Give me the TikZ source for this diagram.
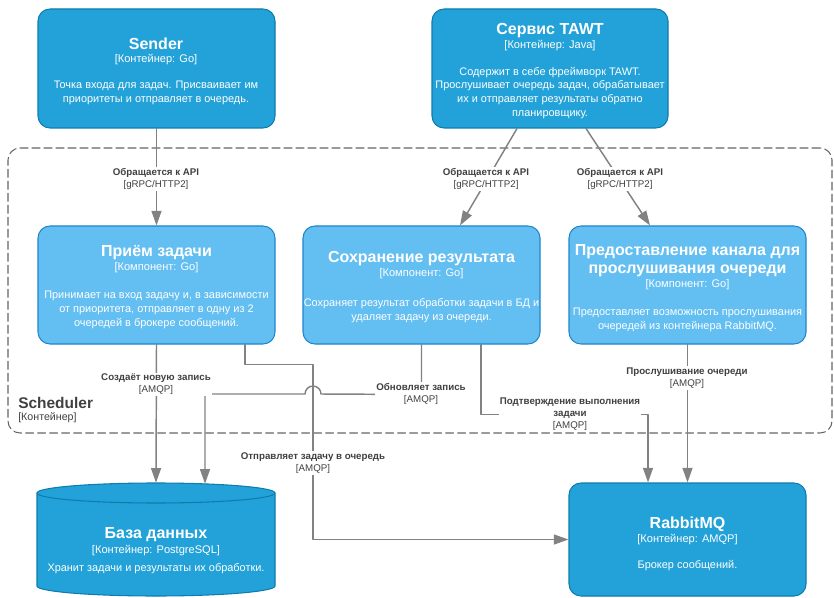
\documentclass[tikz,border=0pt]{standalone}
\usepackage{fontspec}
\setmainfont{Liberation Sans}
\usepackage{tikz}
\usetikzlibrary{positioning, fit, calc, arrows.meta}

% C4 palette
\definecolor{c4cont}{HTML}{23A2D9}
\definecolor{c4contline}{HTML}{0E7DAD}
\definecolor{c4comp}{HTML}{63BEF2}
\definecolor{c4compline}{HTML}{2086C9}
\definecolor{c4rel}{HTML}{828282}
\definecolor{c4label}{HTML}{404040}
\definecolor{c4bnd}{HTML}{666666}

\newcommand{\boxtitle}[1]{{\fontsize{12}{14}\selectfont\bfseries #1}}
\newcommand{\boxtype}[1]{{\fontsize{8.3}{10}\selectfont #1}}
\newcommand{\reltext}[2]{\textbf{#1}\\{[#2]}}

\tikzset{
  container/.style={draw=c4contline, fill=c4cont, line width=0.8pt, rounded corners=9pt, inner sep=0pt},
  component/.style={container, draw=c4compline, fill=c4comp},
  boxtext/.style={text=white, align=center, font=\fontsize{8.2}{10.3}\selectfont},
  boundary/.style={draw=c4bnd, line width=0.8pt, dash pattern=on 6pt off 3pt, rounded corners=9pt, inner sep=0pt},
  rel/.style={draw=c4rel, line width=1.1pt, -{Triangle[length=11pt,width=7.5pt]}},
  rellabel/.style={fill=white, inner sep=1pt, align=center, text=c4label, font=\fontsize{7.3}{9}\selectfont},
}

\begin{document}
\begin{tikzpicture}[x=0.75pt, y=-0.75pt, line cap=round, line join=round]
        \useasboundingbox (0,0) rectangle (834,598);
        % scheduler boundary
        \node[boundary, fit={(8,148) (832,433)}] (scheduler) {};
        \node[anchor=north west, align=left, text=c4label, inner sep=0pt] (scheduler-name) at (18,397)
            {{\fontsize{11.6}{13}\selectfont\bfseries Scheduler}\\[-3pt]{\fontsize{8}{9}\selectfont [Контейнер]}};
        % external containers
        \node[container, fit={(38,9) (275,128)}] (sender) {};
        \node[boxtext] (sender-text) at (156,71)
            {\boxtitle{Sender}\\\boxtype{[Контейнер: Go]}\\[9pt]
             Точка входа для задач. Присваивает им\\приоритеты и отправляет в очередь.};
        \node[container, fit={(432,9) (668,128)}] (tawt) {};
        \node[boxtext] (tawt-text) at (550,71)
            {\boxtitle{Сервис TAWT}\\\boxtype{[Контейнер: Java]}\\[10pt]
             Содержит в себе фреймворк TAWT.\\Прослушивает очередь задач, обрабатывает\\
             их и отправляет результаты обратно\\планировщику.};
        % components
        \node[component, fit={(38,226) (275,344)}] (priem) {};
        \node[boxtext] (priem-text) at (156.5,287)
            {\boxtitle{Приём задачи}\\\boxtype{[Компонент: Go]}\\[11pt]
             Принимает на вход задачу и, в зависимости\\от приоритета, отправляет в одну из 2\\
             очередей в брокере сообщений.};
        \node[component, fit={(303,226) (540,344)}] (save) {};
        \node[boxtext] (save-text) at (421.5,287)
            {\boxtitle{Сохранение результата}\\\boxtype{[Компонент: Go]}\\[12pt]
             Сохраняет результат обработки задачи в БД и\\удаляет задачу из очереди.};
        \node[component, fit={(569,226) (806,344)}] (listen) {};
        \node[boxtext] (listen-text) at (687.5,288)
            {\boxtitle{Предоставление канала для}\\[3pt]\boxtitle{прослушивания очереди}\\
             \boxtype{[Компонент: Go]}\\[11pt]
             Предоставляет возможность прослушивания\\очередей из контейнера RabbitMQ.};
        % database
        \path[container, rounded corners=0pt] (37,493) -- (37,586)
            arc[start angle=180, end angle=360, x radius=89.25pt, y radius=7.5pt] -- (275,493)
            arc[start angle=0, end angle=180, x radius=89.25pt, y radius=7.5pt] -- cycle;
        \draw[c4contline, line width=0.8pt] (37,493)
            arc[start angle=180, end angle=360, x radius=89.25pt, y radius=7.5pt];
        \node[fit={(37,483) (275,596)}, inner sep=0pt] (db) {};
        \node[boxtext] (db-text) at (156,551)
            {\boxtitle{База данных}\\[0.7pt]\boxtype{[Контейнер: PostgreSQL]}\\[3.5pt]
             Хранит задачи и результаты их обработки.};
        % message broker
        \node[container, fit={(569,483) (806,596)}] (rabbit) {};
        \node[boxtext] (rabbit-text) at (687.5,544)
            {\boxtitle{RabbitMQ}\\\boxtype{[Контейнер: AMQP]}\\[9.5pt]Брокер сообщений.};

        % API calls
        \draw[rel] (sender) -- (priem);
        \draw[rel] ($(tawt.south)+(-33,0)$) -- ($(save.north)+(38.5,0)$);
        \draw[rel] ($(tawt.south)+(36,0)$) -- ($(listen.north)+(-37.5,0)$);
        % AMQP links
        \draw[rel] (priem.south) -- (db.north);
        \draw[rel] ($(priem.south)+(88.5,0)$) -- ++(0,20) -- ++(68,0) |- (rabbit.west);
        \draw[rel] (save.south) -- ++(0,50) -- (321,394)
            arc[start angle=0, end angle=180, radius=6pt] -- (205,394) -- ($(db.north)+(49,1)$);
        \draw[rel] ($(save.south)+(59.5,0)$) -- ++(0,70) -| ($(rabbit.north)+(-39.5,0)$);
        \draw[rel] (listen.south) -- (rabbit.north);

        % connector labels
        \node[rellabel] (lbl-sender) at (156,179) {\reltext{Обращается к API}{gRPC/HTTP2}};
        \node[rellabel] (lbl-save) at (486,179) {\reltext{Обращается к API}{gRPC/HTTP2}};
        \node[rellabel] (lbl-listen) at (620,179) {\reltext{Обращается к API}{gRPC/HTTP2}};
        \node[rellabel] (lbl-create) at (156,384.5) {\reltext{Создаёт новую запись}{AMQP}};
        \node[rellabel] (lbl-update) at (421,394) {\reltext{Обновляет запись}{AMQP}};
        \node[rellabel] (lbl-queue) at (313,463) {\reltext{Отправляет задачу в очередь}{AMQP}};
        \node[rellabel] (lbl-ack) at (570,414) {\textbf{Подтверждение выполнения}\\\textbf{задачи}\\{[AMQP]}};
        \node[rellabel] (lbl-poll) at (687,378) {\reltext{Прослушивание очереди}{AMQP}};
\end{tikzpicture}
\end{document}
